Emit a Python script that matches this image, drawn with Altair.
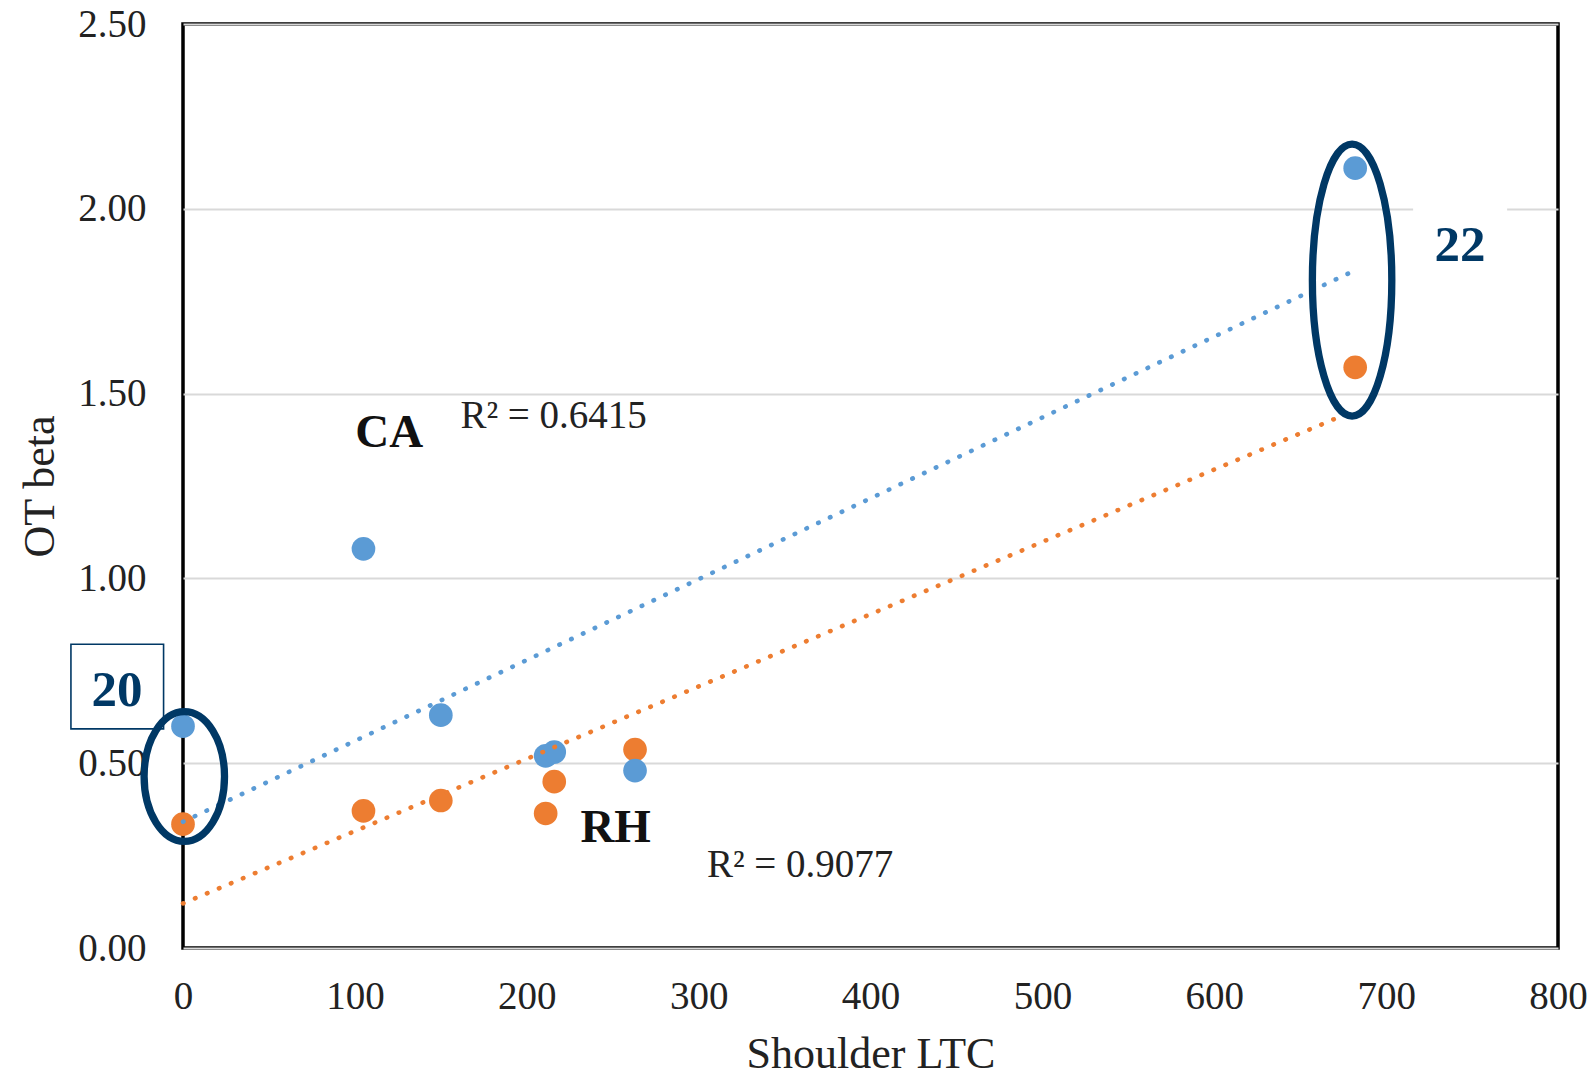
import altair as alt
import pandas as pd

# ---- data ----
shoulder_ltc = [0, 105, 150, 211, 216, 263, 682]
ca_beta = [0.60, 1.08, 0.63, 0.52, 0.53, 0.48, 2.11]
rh_beta = [0.335, 0.371, 0.399, 0.364, 0.45, 0.537, 1.571]
series_names = ["CA", "RH"]
series_colors = ["#5B9BD5", "#ED7D31"]

x_ticks = [0, 100, 200, 300, 400, 500, 600, 700, 800]
y_ticks = [0.0, 0.5, 1.0, 1.5, 2.0, 2.5]

# annotation texts (data coordinates)
label_text = ["CA", "RH"]
label_x = [100.2, 231.2]
label_y = [1.356, 0.288]
r2_text = ["R\u00b2 = 0.6415", "R\u00b2 = 0.9077"]
r2_x = [161.4, 304.8]
r2_y = [1.407, 0.193]
group_text = ["20", "22"]
group_x = [-38.4, 743.0]
group_y = [0.655, 1.860]
# ellipse centres
ell_small_x = [0.76]
ell_small_y = [0.464]
ell_big_x = [680.2]
ell_big_y = [1.807]
# box around "20" and white backing behind "22"
box_x = [-65.2]
box_x2 = [-11.3]
box_y = [0.593]
box_y2 = [0.822]
white_x = [715.7]
white_x2 = [770.4]
white_y = [1.72]
white_y2 = [2.08]

NAVY = "#003865"
FONT = "Liberation Serif"

df = pd.DataFrame({
    "ltc": shoulder_ltc + shoulder_ltc,
    "beta": rh_beta + ca_beta,
    "series": ["RH"] * len(rh_beta) + ["CA"] * len(ca_beta),
})

xs = alt.Scale(domain=[0, 800], nice=False, zero=False)
ys = alt.Scale(domain=[0, 2.5], nice=False, zero=False)
color = alt.Color("series:N", scale=alt.Scale(domain=series_names, range=series_colors), legend=None)

X = alt.X("ltc:Q", scale=xs, title="Shoulder LTC",
          axis=alt.Axis(values=x_ticks, format="d", grid=False, domain=False, ticks=False, tickSize=0,
                        labelFlush=False,
                        labelFont=FONT, labelFontSize=39, labelColor="#222", labelPadding=29,
                        titleFont=FONT, titleFontSize=44, titleFontWeight="normal", titleColor="#222",
                        titleBaseline="alphabetic", titleY=119))
Y = alt.Y("beta:Q", scale=ys, title="OT beta",
          axis=alt.Axis(values=y_ticks, format=".2f", grid=True, gridColor="#D9D9D9", gridWidth=2,
                        domain=False, ticks=False, tickSize=0, labelFlush=False,
                        labelFont=FONT, labelFontSize=39, labelColor="#222", labelPadding=37,
                        titleFont=FONT, titleFontSize=44, titleFontWeight="normal", titleColor="#222",
                        titleBaseline="alphabetic", titleX=-130, titleY=462, titleAngle=-90))

points = alt.Chart(df).mark_circle(size=560, opacity=1).encode(x=X, y=Y, color=color)

trend = alt.Chart(df).transform_regression(
    "ltc", "beta", groupby=["series"]
).mark_line(strokeDash=[0.5, 12.5], strokeCap="round", strokeWidth=4.6).encode(
    x=alt.X("ltc:Q", scale=xs), y=alt.Y("beta:Q", scale=ys), color=color)

white_df = pd.DataFrame({"x": white_x, "x2": white_x2, "y": white_y, "y2": white_y2})
white_box = alt.Chart(white_df).mark_rect(fill="white").encode(
    x=alt.X("x:Q", scale=xs), x2="x2", y=alt.Y("y:Q", scale=ys), y2="y2")

box_df = pd.DataFrame({"x": box_x, "x2": box_x2, "y": box_y, "y2": box_y2})
box20 = alt.Chart(box_df).mark_rect(fill="white", stroke=NAVY, strokeWidth=1.6).encode(
    x=alt.X("x:Q", scale=xs), x2="x2", y=alt.Y("y:Q", scale=ys), y2="y2")

lab_df = pd.DataFrame({"t": label_text, "x": label_x, "y": label_y})
labels = alt.Chart(lab_df).mark_text(font=FONT, fontSize=47, fontWeight="bold", align="left",
                                      baseline="alphabetic", color="#111").encode(
    x=alt.X("x:Q", scale=xs), y=alt.Y("y:Q", scale=ys), text="t:N")

r2_df = pd.DataFrame({"t": r2_text, "x": r2_x, "y": r2_y})
r2 = alt.Chart(r2_df).mark_text(font=FONT, fontSize=39, align="left",
                                 baseline="alphabetic", color="#222").encode(
    x=alt.X("x:Q", scale=xs), y=alt.Y("y:Q", scale=ys), text="t:N")

grp_df = pd.DataFrame({"t": group_text, "x": group_x, "y": group_y})
groups = alt.Chart(grp_df).mark_text(font=FONT, fontSize=51, fontWeight="bold", align="center",
                                      baseline="alphabetic", color=NAVY).encode(
    x=alt.X("x:Q", scale=xs), y=alt.Y("y:Q", scale=ys), text="t:N")

ell_small_df = pd.DataFrame({"x": ell_small_x, "y": ell_small_y})
ell_small = alt.Chart(ell_small_df).mark_point(
    shape="M 0 -1 A 0.62 1 0 1 1 0 1 A 0.62 1 0 1 1 0 -1 Z",
    size=16822, filled=False, stroke=NAVY, strokeWidth=7.3, opacity=1).encode(
    x=alt.X("x:Q", scale=xs), y=alt.Y("y:Q", scale=ys))

ell_big_df = pd.DataFrame({"x": ell_big_x, "y": ell_big_y})
ell_big = alt.Chart(ell_big_df).mark_point(
    shape="M 0 -1 A 0.292 1 0 1 1 0 1 A 0.292 1 0 1 1 0 -1 Z",
    size=73984, filled=False, stroke=NAVY, strokeWidth=7.3, opacity=1).encode(
    x=alt.X("x:Q", scale=xs), y=alt.Y("y:Q", scale=ys))

chart = alt.layer(
    white_box, box20, points, trend, labels, r2, groups, ell_small, ell_big
).properties(
    width=1375, height=924,
    autosize=alt.AutoSizeParams(type="none"),
    padding={"left": 183, "top": 24, "right": 37, "bottom": 129},
    background="white",
).configure_view(
    stroke="black", strokeWidth=3.5
)

chart.save("out.html", embed_options={"renderer": "svg", "actions": False})
